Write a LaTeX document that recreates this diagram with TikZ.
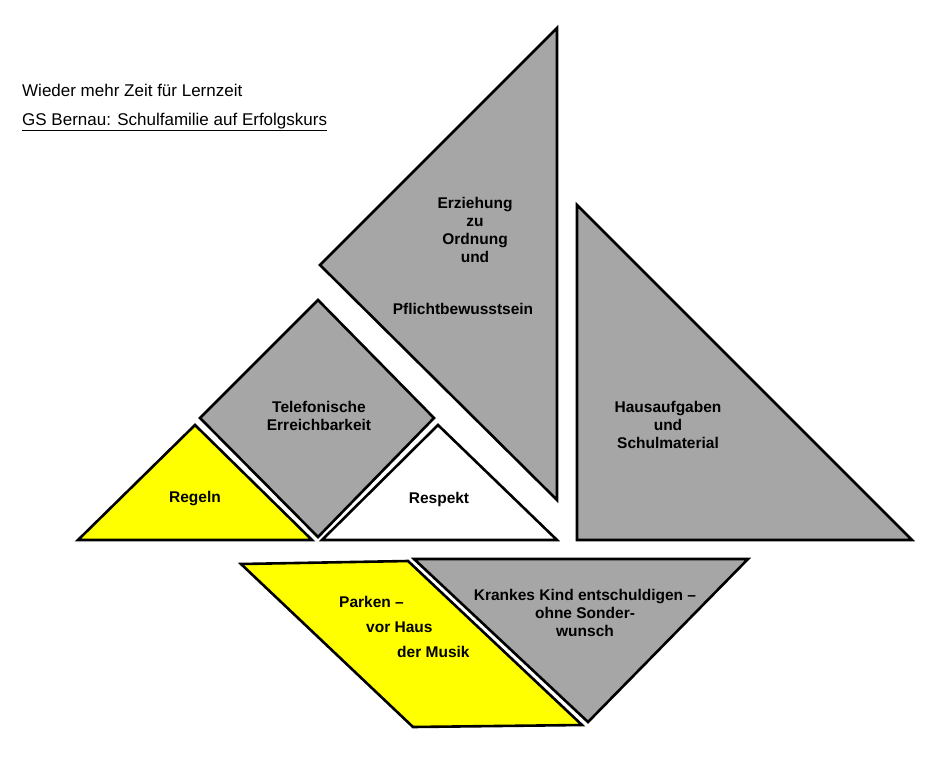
\documentclass[tikz,border=0pt]{standalone}
\usepackage{fontspec}
\setmainfont{Liberation Sans}
\begin{document}
\begin{tikzpicture}[x=1pt,y=-1pt,
  piece/.style={draw=black,line width=2.6pt,line join=miter},
  lab/.style={font=\fontsize{15.5}{18}\selectfont\bfseries,align=center,inner sep=0pt},
  hdr/.style={font=\fontsize{17}{20}\selectfont,anchor=west,inner sep=0pt}]
\useasboundingbox (0,0) rectangle (941,770);
\definecolor{grayp}{RGB}{166,166,166}
\definecolor{yel}{RGB}{255,255,0}
\fill[white] (0,0) rectangle (941,770);
\node[hdr] (t1) at (22,90) {Wieder mehr Zeit für Lernzeit};
\node[hdr] (t2) at (22,122) {\underline{GS Bernau: Schulfamilie auf Erfolgskurs}};
\draw[piece,fill=grayp] (557,28) -- (320,265) -- (557,500) -- cycle;
\draw[piece,fill=grayp] (577,205) -- (577,540) -- (912,540) -- cycle;
\draw[piece,fill=grayp] (318,300) -- (434,418) -- (318,537) -- (200,418) -- cycle;
\draw[piece,fill=yel] (195,425) -- (78,540) -- (312,540) -- cycle;
\draw[piece,fill=white] (438,425) -- (322,540) -- (557,540) -- cycle;
\draw[piece,fill=yel] (241,564) -- (408,561) -- (582,725) -- (413,727) -- cycle;
\draw[piece,fill=grayp] (414,559) -- (748,559) -- (588,722) -- cycle;
\node[lab] (a) at (475,230) {Erziehung\\zu\\Ordnung\\und};
\node[lab] (b) at (463,309) {Pflichtbewusstsein};
\node[lab] (c) at (668,425) {Hausaufgaben\\und\\Schulmaterial};
\node[lab] (d) at (319,416) {Telefonische\\Erreichbarkeit};
\node[lab] (e) at (195,499) {Regeln};
\node[lab] (f) at (439,499) {Respekt};
\node[lab,anchor=west] (g) at (339,602) {Parken --};
\node[lab,anchor=west] (h) at (366,627) {vor Haus};
\node[lab,anchor=west] (i) at (397,652) {der Musik};
\node[lab] (j) at (585,613) {Krankes Kind entschuldigen --\\ohne Sonder-\\wunsch};
\end{tikzpicture}
\end{document}
